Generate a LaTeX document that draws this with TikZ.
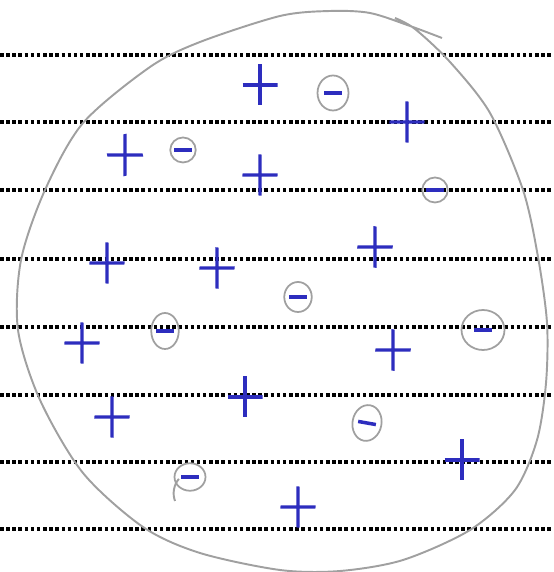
\documentclass[tikz,border=0pt]{standalone}
\usepackage{tikz}
\usetikzlibrary{shapes.geometric}
\definecolor{penblue}{RGB}{45,45,190}
\definecolor{pencilgrey}{RGB}{160,160,160}
\tikzset{
    dotline/.style={line width=2pt, dash pattern=on 2pt off 1.5pt, black},
    blobline/.style={pencilgrey, line width=1.1pt},
    plussign/.style={minimum width=0.7cm, minimum height=0.82cm, inner sep=0pt,
        path picture={\draw[penblue, line width=1.8pt]
            (path picture bounding box.north) -- (path picture bounding box.south)
            (path picture bounding box.west) -- (path picture bounding box.east);}},
    minussign/.style={shape=ellipse, draw=pencilgrey, line width=1pt, inner sep=0pt,
        minimum width=0.55cm, minimum height=0.6cm}
}
\newcommand{\minusbar}{{\color{penblue}\rule{0.36cm}{2pt}}}

\begin{document}
\begin{tikzpicture}
    \useasboundingbox (0,0) rectangle (11.06,11.44);

    \draw[dotline] (0,10.34) -- (11.06,10.34);
    \draw[dotline] (0,9.00) -- (11.06,9.00);
    \draw[dotline] (0,7.64) -- (11.06,7.64);
    \draw[dotline] (0,6.26) -- (11.06,6.26);
    \draw[dotline] (0,4.90) -- (11.06,4.90);
    \draw[dotline] (0,3.54) -- (11.06,3.54);
    \draw[dotline] (0,2.20) -- (11.06,2.20);
    \draw[dotline] (0,0.86) -- (11.06,0.86);

    \draw[blobline] plot[smooth] coordinates {
        (8.84,10.68) (8.20,10.92) (7.40,11.18) (6.60,11.22) (5.60,11.12)
        (4.00,10.60) (3.00,10.10) (1.66,8.98) (0.90,7.64) (0.42,6.24)
        (0.36,4.84) (0.80,3.44) (1.66,1.98) (2.86,0.90) (4.00,0.38)
        (5.60,0.04) (6.80,0.02) (8.06,0.24) (9.40,0.84) (10.30,1.64)
        (10.74,2.64) (10.92,3.78) (10.94,4.98) (10.76,6.30) (10.46,7.64)
        (9.80,9.18) (9.00,10.20) (8.30,10.86) (7.90,11.08)};
    \draw[blobline] (3.50,1.42) arc (200:140:0.45);

    \node[plussign] (p1) at (5.20,9.74) {};
    \node[plussign, rotate=-4] (p2) at (8.14,9.00) {};
    \node[plussign, rotate=12] (p3) at (2.50,8.34) {};
    \node[plussign, rotate=-5] (p4) at (5.20,7.94) {};
    \node[plussign, rotate=-8] (p5) at (7.50,6.50) {};
    \node[plussign, rotate=-4] (p6) at (2.14,6.18) {};
    \node[plussign, rotate=-6] (p7) at (4.34,6.08) {};
    \node[plussign, rotate=-5] (p8) at (1.64,4.58) {};
    \node[plussign, rotate=-8] (p9) at (7.86,4.44) {};
    \node[plussign] (p10) at (4.90,3.50) {};
    \node[plussign, rotate=-6] (p11) at (2.24,3.10) {};
    \node[plussign] (p12) at (9.24,2.24) {};
    \node[plussign, rotate=-4] (p13) at (5.96,1.30) {};

    \node[minussign, minimum width=0.62cm, minimum height=0.70cm] (n1) at (6.66,9.58) {\minusbar};
    \node[minussign, minimum width=0.48cm, minimum height=0.50cm] (n2) at (3.66,8.44) {\minusbar};
    \node[minussign, minimum width=0.45cm, minimum height=0.50cm] (n3) at (8.70,7.64) {\minusbar};
    \node[minussign] (n4) at (5.96,5.50) {\minusbar};
    \node[minussign, minimum width=0.55cm, minimum height=0.72cm] (n5) at (3.30,4.82) {\minusbar};
    \node[minussign, minimum width=0.86cm, minimum height=0.80cm] (n6) at (9.66,4.84) {\minusbar};
    \node[minussign, minimum width=0.58cm, minimum height=0.72cm, rotate=-10] (n7) at (7.34,2.98) {\minusbar};
    \node[minussign, minimum width=0.62cm, minimum height=0.55cm] (n8) at (3.80,1.90) {\minusbar};

\end{tikzpicture}
\end{document}
